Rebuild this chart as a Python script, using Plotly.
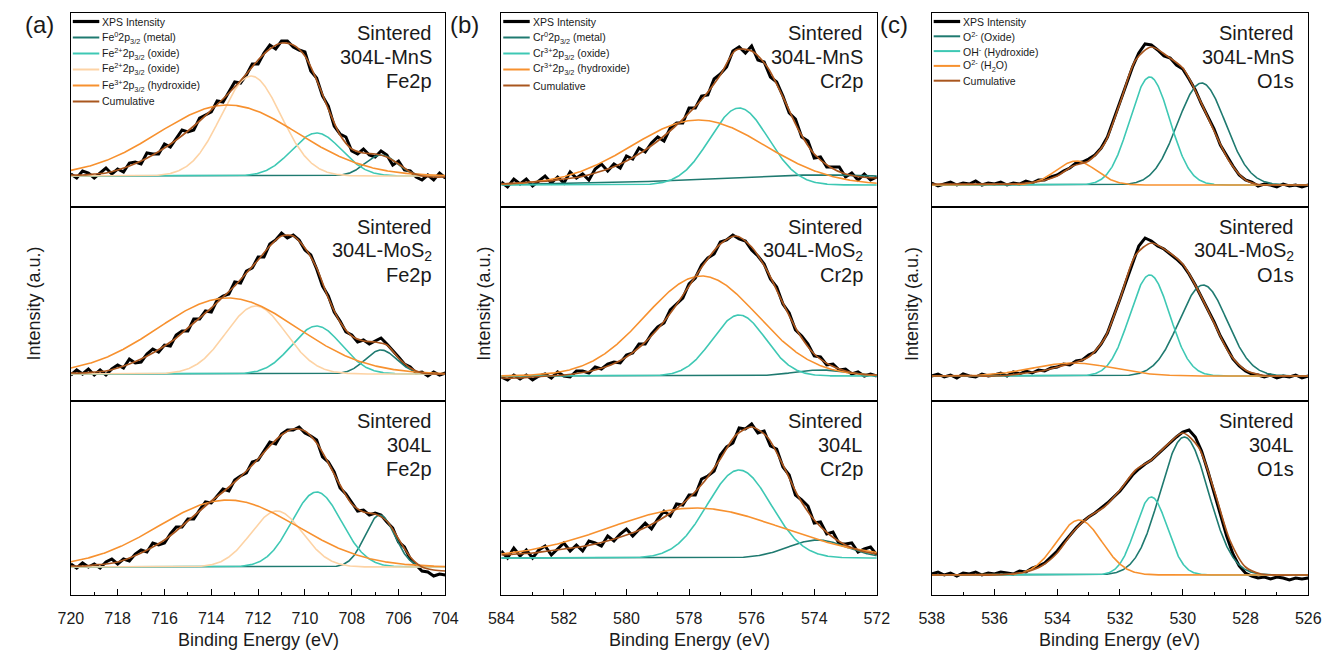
import numpy as np
import plotly.graph_objects as go

FONT = "Liberation Sans, Arial, sans-serif"
W, H = 1333, 650

TEAL = "#1f7a70"
TURQ = "#3ec8b4"
PEACH = "#fdd3a5"
ORANGE = "#f7912f"
BROWN = "#a9561e"
INK = "#1a1a1a"

# ---- binding-energy grids (eV) ----
fe_be = np.linspace(720, 704, 65)      # measured, 0.25 eV step
fe_fit_be = np.linspace(720, 704, 33)  # envelope, 0.5 eV step
cr_be = np.linspace(584, 572, 61)      # measured, 0.2 eV step
cr_fit_be = np.linspace(584, 572, 25)
o_be = np.linspace(538, 526, 61)
o_fit_be = np.linspace(538, 526, 25)

# ---- measured XPS intensity (a.u.) ----
fe_mns = [33, 29, 36, 34, 29, 34, 39, 33, 38, 35, 44, 45, 43, 54, 53, 53, 63, 60, 69, 77,
          75, 77, 89, 92, 95, 106, 105, 115, 125, 124, 132, 143, 143, 154, 162, 158, 166, 166,
          160, 157, 155, 136, 129, 111, 101, 81, 73, 70, 56, 53, 58, 52, 50, 56, 52, 42, 46,
          37, 36, 30, 27, 32, 27, 34, 29]
fe_mos2 = [26, 31, 27, 32, 26, 31, 26, 32, 36, 33, 42, 38, 39, 47, 52, 49, 56, 55, 66, 70,
           70, 82, 82, 90, 89, 101, 105, 107, 119, 118, 130, 133, 144, 144, 157, 161, 168, 163,
           166, 161, 151, 146, 132, 115, 105, 89, 80, 69, 66, 59, 61, 57, 60, 63, 57, 51, 44,
           37, 34, 28, 29, 25, 29, 26, 28]
fe_304 = [31, 27, 32, 28, 31, 27, 33, 36, 31, 36, 34, 41, 45, 43, 52, 50, 52, 61, 68, 68,
          76, 76, 85, 93, 92, 99, 106, 104, 115, 119, 122, 133, 135, 144, 153, 151, 161, 165,
          165, 168, 162, 159, 155, 138, 133, 123, 107, 101, 93, 84, 85, 80, 82, 80, 73, 67, 53,
          48, 36, 30, 24, 23, 19, 21, 20]

cr_mns = [25, 20, 28, 23, 28, 21, 26, 31, 24, 30, 24, 35, 29, 33, 27, 38, 43, 36, 43, 39,
          51, 48, 59, 55, 64, 70, 66, 79, 84, 84, 99, 99, 111, 112, 128, 133, 140, 156, 160, 154,
          161, 147, 145, 130, 125, 111, 94, 88, 70, 66, 49, 50, 40, 40, 40, 30, 34, 27, 33, 27,
          30]
cr_mos2 = [24, 21, 26, 22, 26, 21, 25, 27, 23, 29, 25, 24, 30, 30, 28, 34, 32, 37, 39, 38,
           46, 48, 57, 57, 67, 74, 78, 91, 97, 103, 117, 123, 136, 143, 147, 159, 161, 166, 162,
           160, 151, 145, 137, 122, 114, 97, 88, 71, 65, 57, 45, 44, 36, 37, 31, 32, 27, 29, 25,
           27, 25]
cr_304 = [44, 37, 47, 39, 45, 37, 45, 49, 40, 46, 52, 44, 50, 44, 54, 52, 49, 59, 54, 61,
          66, 59, 66, 72, 66, 76, 84, 79, 91, 90, 100, 100, 116, 119, 124, 140, 148, 152, 167,
          166, 171, 162, 164, 149, 146, 128, 120, 100, 95, 89, 72, 73, 61, 63, 51, 51, 52, 43,
          46, 48, 40]

o_mns = [24, 21, 23, 25, 22, 24, 23, 26, 22, 24, 23, 25, 22, 24, 23, 26, 24, 27, 27, 30,
         32, 36, 39, 44, 45, 48, 52, 59, 70, 87, 105, 122, 140, 154, 163, 162, 157, 151, 149,
         142, 138, 128, 117, 103, 91, 78, 62, 51, 41, 32, 27, 25, 21, 23, 22, 20, 23, 21, 22,
         20, 22]
o_mos2 = [25, 27, 24, 26, 23, 27, 25, 24, 27, 25, 26, 28, 25, 29, 27, 30, 28, 31, 30, 33,
          34, 37, 36, 40, 41, 46, 49, 57, 68, 84, 102, 120, 138, 155, 163, 160, 155, 152, 147,
          142, 136, 127, 116, 104, 92, 79, 65, 53, 42, 35, 30, 27, 26, 24, 26, 23, 25, 24, 26,
          23, 25]
o_304 = [21, 23, 20, 22, 19, 22, 21, 23, 20, 22, 21, 23, 22, 21, 24, 23, 27, 29, 32, 38,
         44, 52, 60, 67, 73, 78, 82, 87, 92, 98, 104, 112, 120, 126, 131, 135, 141, 147, 153,
         158, 163, 165, 158, 144, 124, 102, 80, 59, 41, 29, 22, 19, 17, 18, 16, 18, 17, 15, 17,
         16, 17]

# ---- cumulative fit envelopes (a.u.) ----
fe_mns_fit = [32, 32, 33, 34, 37, 41, 46, 52, 59, 67, 76, 86, 97, 108, 120, 133, 147, 158,
              164, 162, 151, 127, 98, 72, 58, 54, 53, 50, 43, 35, 31, 30, 30]
fe_mos2_fit = [28, 28, 29, 30, 33, 37, 42, 48, 55, 63, 73, 83, 93, 104, 115, 128, 141, 155,
               165, 165, 153, 133, 103, 79, 65, 60, 59, 56, 43, 33, 28, 27, 27]
fe_304_fit = [29, 29, 30, 31, 33, 37, 42, 48, 55, 64, 74, 84, 94, 103, 113, 124, 136, 149,
              160, 166, 164, 152, 132, 110, 91, 83, 81, 74, 56, 38, 28, 25, 24]
cr_mns_fit = [23, 24, 25, 26, 28, 30, 34, 39, 46, 55, 66, 79, 94, 111, 132, 157, 156, 140,
              110, 77, 53, 40, 33, 30, 29]
cr_mos2_fit = [23, 23, 24, 25, 26, 28, 31, 36, 44, 56, 72, 92, 115, 138, 157, 165, 154, 130,
               98, 68, 47, 36, 30, 27, 26]
cr_304_fit = [40, 41, 42, 44, 46, 48, 51, 55, 60, 66, 74, 84, 97, 114, 136, 160, 168, 158,
              130, 98, 75, 60, 50, 44, 41]
o_mns_fit = [23, 23, 23, 23, 23, 23, 24, 26, 31, 41, 46, 63, 104, 147, 160, 151, 139, 110,
             76, 45, 27, 22, 22, 22, 22]
o_mos2_fit = [25, 25, 25, 25, 25, 26, 28, 30, 34, 38, 44, 62, 102, 146, 158, 150, 137, 110,
              78, 47, 31, 26, 25, 25, 25]
o_304_fit = [20, 20, 20, 20, 20, 21, 23, 29, 42, 63, 78, 88, 105, 125, 135, 150, 162, 148,
             105, 55, 28, 21, 20, 20, 20]

# ---- fitted components: centre (eV), height (a.u.), FWHM (eV), baseline ----
fe_labels = ["Fe<sup>0</sup>2p<sub>3/2</sub> (metal)",
             "Fe<sup>2+</sup>2p<sub>3/2</sub> (oxide)",
             "Fe<sup>2+</sup>2p<sub>3/2</sub> (oxide)",
             "Fe<sup>3+</sup>2p<sub>3/2</sub> (hydroxide)"]
fe_colors = [TEAL, TURQ, PEACH, ORANGE]
fe_mns_center = [706.75, 709.5, 712.3, 713.3]
fe_mns_height = [21, 43, 100, 71]
fe_mns_fwhm = [1.6, 2.5, 3.0, 7.0]
fe_mns_base = 31
fe_mos2_center = [706.75, 709.5, 712.1, 713.3]
fe_mos2_height = [24, 48, 68, 76]
fe_mos2_fwhm = [1.6, 2.5, 3.0, 7.0]
fe_mos2_base = 27
fe_304_center = [706.8, 709.5, 711.2, 713.3]
fe_304_height = [52, 75, 56, 67]
fe_304_fwhm = [1.5, 2.5, 2.6, 7.0]
fe_304_base = 28

cr_labels = ["Cr<sup>0</sup>2p<sub>3/2</sub> (metal)",
             "Cr<sup>3+</sup>2p<sub>3/2</sub> (oxide)",
             "Cr<sup>3+</sup>2p<sub>3/2</sub> (hydroxide)"]
cr_colors = [TEAL, TURQ, ORANGE]
cr_mns_center = [573.8, 576.4, 577.7]
cr_mns_height = [10, 77, 65]
cr_mns_fwhm = [9.0, 2.2, 5.0]
cr_mns_base = 22
cr_mos2_center = [573.8, 576.4, 577.6]
cr_mos2_height = [6, 61, 100]
cr_mos2_fwhm = [2.0, 2.0, 4.2]
cr_mos2_base = 25
cr_304_center = [573.9, 576.4, 577.8]
cr_304_height = [18, 88, 50]
cr_304_fwhm = [2.2, 2.4, 6.5]
cr_304_base = 37

o_labels = ["O<sup>2-</sup> (Oxide)", "OH<sup>-</sup> (Hydroxide)",
            "O<sup>2-</sup> (H<sub>2</sub>O)"]
o_colors = [TEAL, TURQ, ORANGE]
o_mns_center = [529.4, 531.05, 533.4]
o_mns_height = [102, 108, 24]
o_mns_fwhm = [1.8, 1.5, 1.5]
o_mns_base = 22
o_mos2_center = [529.35, 531.05, 533.5]
o_mos2_height = [91, 101, 13]
o_mos2_fwhm = [1.8, 1.5, 3.0]
o_mos2_base = 25
o_304_center = [529.95, 531.0, 533.3]
o_304_height = [138, 78, 55]
o_304_fwhm = [1.8, 1.2, 1.7]
o_304_base = 20

samples = [["Sintered", "304L-MnS"], ["Sintered", "304L-MoS<sub>2</sub>"], ["Sintered", "304L"]]

columns = [
    dict(be=fe_be, fit_be=fe_fit_be, rng=(720, 704), core="Fe2p", labels=fe_labels,
         colors=fe_colors, letter="(a)", xpx=(59, 441), ytitle_x=21, letter_x=27,
         rows=[(fe_mns, fe_mns_fit, fe_mns_base, fe_mns_center, fe_mns_height, fe_mns_fwhm),
               (fe_mos2, fe_mos2_fit, fe_mos2_base, fe_mos2_center, fe_mos2_height, fe_mos2_fwhm),
               (fe_304, fe_304_fit, fe_304_base, fe_304_center, fe_304_height, fe_304_fwhm)]),
    dict(be=cr_be, fit_be=cr_fit_be, rng=(584, 572), core="Cr2p", labels=cr_labels,
         colors=cr_colors, letter="(b)", xpx=(498, 881), ytitle_x=480, letter_x=460,
         rows=[(cr_mns, cr_mns_fit, cr_mns_base, cr_mns_center, cr_mns_height, cr_mns_fwhm),
               (cr_mos2, cr_mos2_fit, cr_mos2_base, cr_mos2_center, cr_mos2_height, cr_mos2_fwhm),
               (cr_304, cr_304_fit, cr_304_base, cr_304_center, cr_304_height, cr_304_fwhm)]),
    dict(be=o_be, fit_be=o_fit_be, rng=(538, 526), core="O1s", labels=o_labels,
         colors=o_colors, letter="(c)", xpx=(937, 1321), ytitle_x=917, letter_x=899,
         rows=[(o_mns, o_mns_fit, o_mns_base, o_mns_center, o_mns_height, o_mns_fwhm),
               (o_mos2, o_mos2_fit, o_mos2_base, o_mos2_center, o_mos2_height, o_mos2_fwhm),
               (o_304, o_304_fit, o_304_base, o_304_center, o_304_height, o_304_fwhm)]),
]

row_px = [(13, 207), (207, 401), (401, 595)]
Y_SPAN = 194


def fx(px):
    return px / W


def fy(py):
    return 1 - py / H


def gauss(e, c, a, fwhm):
    s = fwhm / 2.3548
    return a * np.exp(-(e - c) ** 2 / (2 * s * s))


def note(x, y, text, size, **kw):
    d = dict(x=fx(x), y=fy(y), xref="paper", yref="paper", text=text, showarrow=False,
             xanchor="center", yanchor="middle", font=dict(family=FONT, size=size, color=INK))
    d.update(kw)
    return d


fig = go.Figure()
annotations = []
shapes = []
layout_axes = {}

for ci, col in enumerate(columns):
    hi, lo = col["rng"]
    e_comp = np.linspace(hi, lo, 800)
    x0, x1 = col["xpx"]
    for ri, (data, fit, base, cen, hgt, fw) in enumerate(col["rows"]):
        k = ri * 3 + ci + 1
        xa = "x" if k == 1 else f"x{k}"
        ya = "y" if k == 1 else f"y{k}"
        # measured spectrum
        fig.add_trace(go.Scatter(x=col["be"], y=data, mode="lines", xaxis=xa, yaxis=ya,
                                 line=dict(color="black", width=3), showlegend=False))
        # fitted components on the common baseline
        for c, a, f, clr in zip(cen, hgt, fw, col["colors"]):
            fig.add_trace(go.Scatter(x=e_comp, y=base + gauss(e_comp, c, a, f), mode="lines",
                                     xaxis=xa, yaxis=ya, line=dict(color=clr, width=1.6),
                                     showlegend=False))
        # cumulative envelope
        fig.add_trace(go.Scatter(x=col["fit_be"], y=fit, mode="lines", xaxis=xa, yaxis=ya,
                                 line=dict(color=BROWN, width=1.7, shape="spline",
                                           smoothing=0.8),
                                 showlegend=False))

        y0, y1 = row_px[ri]
        xkey = "xaxis" if k == 1 else f"xaxis{k}"
        ykey = "yaxis" if k == 1 else f"yaxis{k}"
        xax = dict(domain=[fx(x0), fx(x1)], anchor=ya, range=[hi, lo],
                   showline=True, mirror=True, linecolor="black", linewidth=1.3,
                   showgrid=False, zeroline=False)
        if ri == 2:
            xax.update(ticks="inside", ticklen=6, tickwidth=1, tickcolor="black",
                       tickmode="linear", tick0=lo, dtick=2, ticklabelstandoff=9,
                       tickfont=dict(family=FONT, size=16, color=INK),
                       minor=dict(ticks="inside", ticklen=3, dtick=1, tickcolor="black"))
        else:
            xax.update(showticklabels=False, ticks="")
        layout_axes[xkey] = xax
        layout_axes[ykey] = dict(domain=[fy(y1), fy(y0)], anchor=xa, range=[0, Y_SPAN],
                                 showline=True, mirror=True, linecolor="black", linewidth=1.3,
                                 showgrid=False, zeroline=False, showticklabels=False,
                                 ticks="")

        # sample label, right aligned in the panel
        for li, txt in enumerate(samples[ri] + [col["core"]]):
            annotations.append(note(x1 - 12, y0 + 20 + 24 * li, txt, 20, xanchor="right"))

    # axis titles and panel letter
    annotations.append(note((x0 + x1) / 2, 640, "Binding Energy (eV)", 18))
    annotations.append(note(col["ytitle_x"], 304, "Intensity (a.u.)", 18, textangle=-90))
    annotations.append(note(col["letter_x"], 25, col["letter"], 24))

    # legend in the top panel of each column
    entries = [("XPS Intensity", "black", 3.2)] + \
              [(t, c, 2) for t, c in zip(col["labels"], col["colors"])] + \
              [("Cumulative", BROWN, 2)]
    step = 16 if ci < 2 else 14.8
    for li, (txt, clr, lw) in enumerate(entries):
        yy = 21.5 + step * li
        shapes.append(dict(type="line", xref="paper", yref="paper",
                           x0=fx(x0 + 2), x1=fx(x0 + 29), y0=fy(yy), y1=fy(yy),
                           line=dict(color=clr, width=lw)))
        annotations.append(note(x0 + 30, yy, txt, 10.5, xanchor="left"))

fig.update_layout(width=W, height=H, margin=dict(l=0, r=0, t=0, b=0),
                  paper_bgcolor="white", plot_bgcolor="white",
                  annotations=annotations, shapes=shapes, showlegend=False,
                  **layout_axes)

fig.write_html("out.html")
